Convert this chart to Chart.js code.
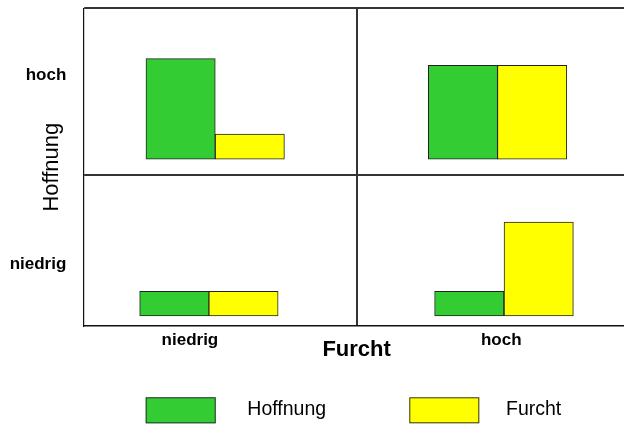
<!DOCTYPE html>
<html>
<head>
<meta charset="utf-8">
<script src="https://cdn.jsdelivr.net/npm/chart.js@4/dist/chart.umd.min.js"></script>
<style>
  html, body { margin: 0; padding: 0; background: #fff; overflow: hidden; }
  #wrap { width: 624px; height: 424px; overflow: hidden; }
</style>
</head>
<body>
<div id="wrap"><canvas id="chart" width="632" height="424"></canvas></div>
<script>
// series
const seriesNames = ["Hoffnung", "Furcht"];
const levelLabels = ["niedrig", "hoch"];

// tick positions (axis units: each quadrant is 1 wide on x, y middle line at 1)
const furchtTickVals = [0.39, 1.529];
const hoffnungTickVals = [0.405, 1.66];

// bars: one per quadrant (hoch/niedrig, hoch/hoch, niedrig/niedrig, niedrig/hoch)
const hoffnungX = [0.356, 1.389, 0.333, 1.412];
const hoffnungLow = [1.102, 1.102, 0.066, 0.066];
const hoffnungHigh = [1.767, 1.723, 0.229, 0.229];

const furchtX = [0.609, 1.642, 0.586, 1.666];
const furchtLow = [1.102, 1.102, 0.066, 0.066];
const furchtHigh = [1.269, 1.723, 0.229, 0.687];

document.addEventListener("DOMContentLoaded", () => {
  const ctx = document.getElementById("chart").getContext("2d");
  const font = "'Liberation Sans', Arial, sans-serif";

  const toPoints = (xs, lo, hi) => xs.map((x, i) => ({ x, y: [lo[i], hi[i]] }));

  const lineCol = (vals) => (c) =>
    c.tick && vals.includes(c.tick.value) ? "#333" : "rgba(0,0,0,0)";

  const legendPlugin = {
    id: "bottomLegend",
    afterDraw(chart) {
      const c = chart.ctx;
      const boxX = [145.7, 409.3];
      const textX = [247.3, 506];
      c.save();
      chart.data.datasets.forEach((ds, i) => {
        c.fillStyle = ds.backgroundColor;
        c.fillRect(boxX[i], 397.3, 70, 26);
        c.strokeStyle = "#333";
        c.lineWidth = 1;
        c.strokeRect(boxX[i] + 0.5, 397.8, 69, 25);
        c.fillStyle = "#000";
        c.font = "19.5px " + font;
        c.textBaseline = "middle";
        c.textAlign = "left";
        c.fillText(ds.label, textX[i], 410);
      });
      c.restore();
    },
  };

  new Chart(ctx, {
    type: "bar",
    data: {
      datasets: [
        {
          label: seriesNames[0],
          data: toPoints(hoffnungX, hoffnungLow, hoffnungHigh),
          backgroundColor: "#33cc33",
        },
        {
          label: seriesNames[1],
          data: toPoints(furchtX, furchtLow, furchtHigh),
          backgroundColor: "#ffff00",
        },
      ],
    },
    options: {
      responsive: false,
      animation: false,
      devicePixelRatio: 1,
      layout: { padding: { top: 8.3, right: 2, left: 0, bottom: 0 } },
      datasets: {
        bar: {
          grouped: false,
          barThickness: 69.3,
          borderWidth: 1,
          borderColor: "#222",
          borderSkipped: false,
        },
      },
      plugins: {
        legend: { display: false },
        tooltip: { enabled: false },
      },
      scales: {
        x: {
          type: "linear",
          min: 0,
          max: 2,
          offset: false,
          afterBuildTicks: (s) => {
            s.ticks = [0, furchtTickVals[0], 1, furchtTickVals[1], 2].map((v) => ({ value: v }));
          },
          afterFit: (s) => {
            s.height = 98;
            s.paddingLeft = 0;
            s.paddingRight = 0;
          },
          grid: { color: lineCol([1, 2]), lineWidth: 2, drawTicks: false, offset: false },
          border: { color: "#111", width: 1.5 },
          ticks: {
            autoSkip: false,
            maxRotation: 0,
            padding: 4,
            color: "#000",
            font: { family: font, size: 17, weight: "bold" },
            callback: (v) => {
              const i = furchtTickVals.indexOf(v);
              return i >= 0 ? levelLabels[i] : "";
            },
          },
          title: {
            display: true,
            text: "Furcht",
            color: "#000",
            font: { family: font, size: 22, weight: "bold" },
            padding: { top: 0, bottom: 61 },
          },
        },
        y: {
          type: "linear",
          min: 0,
          max: 2.1,
          afterBuildTicks: (s) => {
            s.ticks = [0, hoffnungTickVals[0], 1, hoffnungTickVals[1], 2.1].map((v) => ({ value: v }));
          },
          afterFit: (s) => {
            s.width = 83.3;
            s.paddingTop = 0;
            s.paddingBottom = 0;
          },
          grid: { color: lineCol([1, 2.1]), lineWidth: 2, drawTicks: false },
          border: { color: "#111", width: 1.2 },
          ticks: {
            autoSkip: false,
            padding: 17,
            color: "#000",
            font: { family: font, size: 17, weight: "bold" },
            callback: (v) => {
              const i = hoffnungTickVals.indexOf(v);
              return i >= 0 ? levelLabels[i] : "";
            },
          },
          title: {
            display: true,
            text: "Hoffnung",
            color: "#000",
            font: { family: font, size: 22 },
            padding: { top: 38.5, bottom: 0 },
          },
        },
      },
    },
    plugins: [legendPlugin],
  });
});
</script>
</body>
</html>
